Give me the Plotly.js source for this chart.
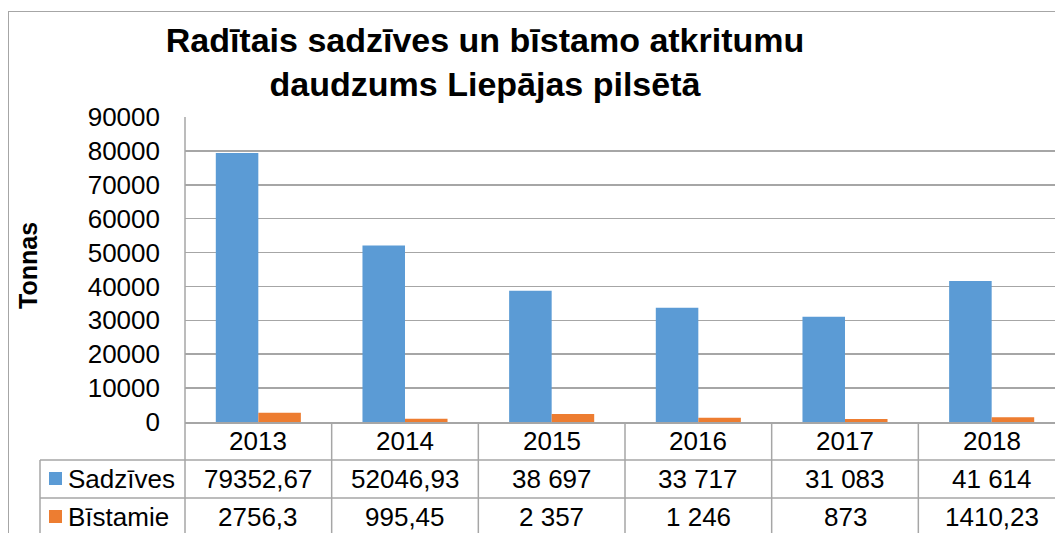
<!DOCTYPE html>
<html>
<head>
<meta charset="utf-8">
<script src="https://cdn.plot.ly/plotly-3.0.1.min.js"></script>
<style>
  html, body { margin: 0; padding: 0; background: #fff; overflow: hidden; width: 1055px; height: 533px; }
  #frame { position: absolute; left: 8px; top: 11px; width: 1100px; height: 600px; border-left: 1.5px solid #a6a6a6; border-top: 1.5px solid #a6a6a6; pointer-events: none; z-index: 5; }
  #chart { position: absolute; left: 0; top: 0; }
</style>
</head>
<body>
<div id="chart"></div>
<div id="frame"></div>
<script>
// ---- data ----
const years = ['2013', '2014', '2015', '2016', '2017', '2018'];
const seriesNames = ['Sadzīves', 'Bīstamie'];
const sadzives = [79352.67, 52046.93, 38697, 33717, 31083, 41614];
const bistamie = [2756.3, 995.45, 2357, 1246, 873, 1410.23];
const sadzivesLabels = ['79352,67', '52046,93', '38 697', '33 717', '31 083', '41 614'];
const bistamieLabels = ['2756,3', '995,45', '2 357', '1 246', '873', '1410,23'];
const yTicks = [0, 10000, 20000, 30000, 40000, 50000, 60000, 70000, 80000, 90000];

const blue = '#5b9bd5';
const orange = '#ed7d31';
const grid = '#a6a6a6';
const font = 'Liberation Sans, Arial, sans-serif';

// ---- geometry (pixels) ----
const W = 1075, H = 533;
const L = 185, R = 1065, T = 117, B = 422;
const pw = R - L, ph = B - T;
const px = x => (x - L) / pw;     // pixel x -> paper x
const py = y => (B - y) / ph;     // pixel y -> paper y

const traces = [
  { type: 'bar', x: years, y: sadzives, name: seriesNames[0], marker: { color: blue }, hoverinfo: 'x+y' },
  { type: 'bar', x: years, y: bistamie, name: seriesNames[1], marker: { color: orange }, hoverinfo: 'x+y' }
];

const shapes = [];
const line = { color: grid, width: 1.5 };
// vertical dividers between year columns
for (let i = 0; i < years.length; i++) {
  shapes.push({ type: 'line', xref: 'x', yref: 'paper', x0: i + 0.5, x1: i + 0.5, y0: 0, y1: py(560), line });
}
// y-axis line continued into table
shapes.push({ type: 'line', xref: 'paper', yref: 'paper', x0: 0, x1: 0, y0: 1, y1: py(560), line });
// table horizontal lines
[460, 498].forEach(yy => shapes.push({ type: 'line', xref: 'paper', yref: 'paper', x0: px(40), x1: 1, y0: py(yy), y1: py(yy), line }));
// table left border
shapes.push({ type: 'line', xref: 'paper', yref: 'paper', x0: px(40), x1: px(40), y0: py(460), y1: py(560), line });
// legend keys
shapes.push({ type: 'rect', xref: 'paper', yref: 'paper', x0: px(49), x1: px(62), y0: py(472), y1: py(485), fillcolor: blue, line: { width: 0 } });
shapes.push({ type: 'rect', xref: 'paper', yref: 'paper', x0: px(49), x1: px(62), y0: py(510), y1: py(523), fillcolor: orange, line: { width: 0 } });

const annotations = [];
const tfont = { family: font, size: 26, color: '#000' };
years.forEach((yr, i) => {
  annotations.push({ xref: 'x', yref: 'paper', x: i, y: py(441), text: yr, showarrow: false, font: tfont, xanchor: 'center', yanchor: 'middle' });
  annotations.push({ xref: 'x', yref: 'paper', x: i, y: py(479), text: sadzivesLabels[i], showarrow: false, font: tfont, xanchor: 'center', yanchor: 'middle' });
  annotations.push({ xref: 'x', yref: 'paper', x: i, y: py(517), text: bistamieLabels[i], showarrow: false, font: tfont, xanchor: 'center', yanchor: 'middle' });
});
annotations.push({ xref: 'paper', yref: 'paper', x: px(66), y: py(479), text: seriesNames[0], showarrow: false, font: tfont, xanchor: 'left', yanchor: 'middle' });
annotations.push({ xref: 'paper', yref: 'paper', x: px(66), y: py(517), text: seriesNames[1], showarrow: false, font: tfont, xanchor: 'left', yanchor: 'middle' });
// y-axis title
annotations.push({ xref: 'paper', yref: 'paper', x: px(28), y: py(266), text: '<b>Tonnas</b>', textangle: -90, showarrow: false,
  font: { family: font, size: 25, color: '#000' }, xanchor: 'center', yanchor: 'middle' });

const layout = {
  width: W, height: H,
  margin: { l: L, r: W - R, t: T, b: H - B, pad: 0 },
  paper_bgcolor: '#fff', plot_bgcolor: '#fff',
  showlegend: false,
  barmode: 'group', bargap: 0.42, bargroupgap: 0,
  title: { text: '<b>Radītais sadzīves un bīstamo atkritumu<br>daudzums Liepājas pilsētā</b>', font: { family: font, size: 34, color: '#000' },
    xref: 'container', x: 485 / W, xanchor: 'center', yref: 'container', y: 1 - 52 / H, yanchor: 'top' },
  xaxis: { type: 'category', categoryarray: years, range: [-0.5, 5.5], showticklabels: false, showgrid: false, zeroline: false,
    showline: true, linecolor: grid, linewidth: 1.5, ticks: '', fixedrange: true },
  yaxis: { range: [0, 90000], tickvals: yTicks, tickformat: 'd', showgrid: true, gridcolor: grid, gridwidth: 1.5, zeroline: false,
    showline: false, ticks: '', ticklabelstandoff: 24, tickfont: { family: font, size: 26, color: '#000' }, fixedrange: true },
  shapes, annotations
};

Plotly.newPlot('chart', traces, layout, { displayModeBar: false, staticPlot: true });
</script>
</body>
</html>
